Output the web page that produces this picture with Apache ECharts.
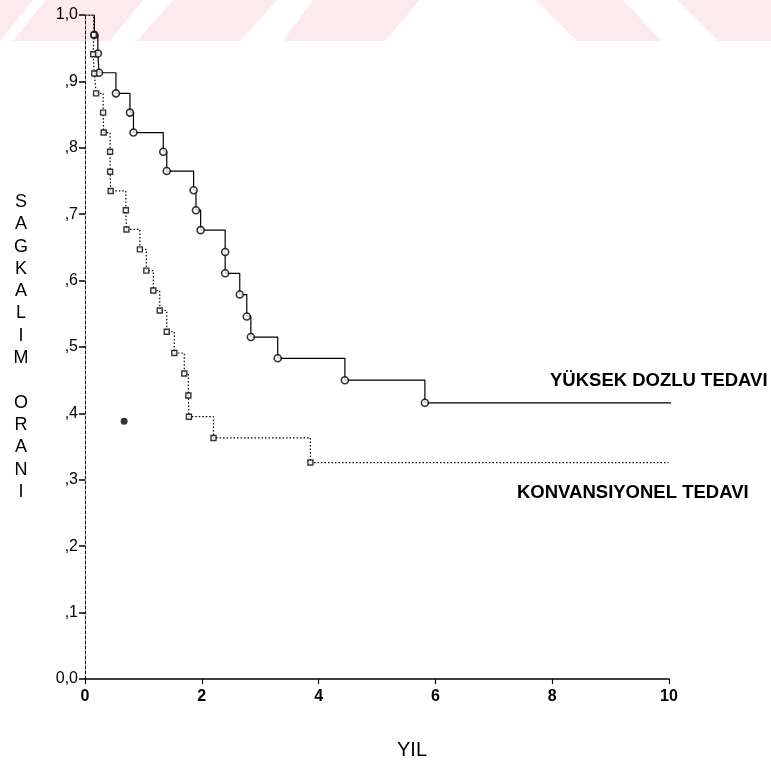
<!DOCTYPE html>
<html>
<head>
<meta charset="utf-8">
<script src="https://cdn.jsdelivr.net/npm/echarts@6/dist/echarts.min.js"></script>
<style>
  html, body { margin: 0; padding: 0; background: #fff; }
  #chart { width: 771px; height: 764px; }
</style>
</head>
<body>
<div id="chart"></div>
<script>
// Kaplan-Meier survival estimates (years, proportion surviving)
const highDoseTimes = [0, 0.16, 0.22, 0.24, 0.53, 0.77, 0.83, 1.34, 1.40, 1.86, 1.90, 1.98, 2.40, 2.40, 2.65, 2.77, 2.84, 3.30, 4.45, 5.82, 10.1];
const highDoseSurv  = [1.0, 0.970, 0.942, 0.913, 0.882, 0.853, 0.823, 0.794, 0.765, 0.736, 0.706, 0.676, 0.643, 0.611, 0.579, 0.546, 0.515, 0.483, 0.450, 0.416, 0.416];

const convTimes = [0, 0.15, 0.14, 0.16, 0.19, 0.31, 0.32, 0.43, 0.43, 0.44, 0.70, 0.71, 0.94, 1.05, 1.17, 1.28, 1.40, 1.53, 1.70, 1.77, 1.78, 2.20, 3.86, 9.99];
const convSurv  = [1.0, 0.970, 0.941, 0.912, 0.882, 0.853, 0.823, 0.794, 0.764, 0.735, 0.706, 0.677, 0.647, 0.615, 0.585, 0.555, 0.523, 0.491, 0.460, 0.427, 0.395, 0.363, 0.326, 0.326];

// lone filled point near the left of the plot
const extraPoint = [[0.67, 0.388]];

const xTickLabels = ['0', '2', '4', '6', '8', '10'];
const yTickLabels = ['0,0', ',1', ',2', ',3', ',4', ',5', ',6', ',7', ',8', ',9', '1,0'];

const highDoseLabel = 'YÜKSEK DOZLU TEDAVI';
const convLabel = 'KONVANSIYONEL TEDAVI';
const xTitle = 'YIL';
const yTitle = 'SAGKALIM ORANI';

const FONT = '"Liberation Sans", Arial, sans-serif';

function pairs(ts, vs) { return ts.map((t, i) => [t, vs[i]]); }
function events(ts, vs) { return pairs(ts, vs).slice(1, -1); }

// stacked vertical title letters (the space leaves an empty row)
const yTitleGraphics = [];
(function () {
  let y = 202;
  for (const ch of yTitle) {
    if (ch !== ' ') {
      yTitleGraphics.push({
        type: 'text', x: 21, y: y,
        style: { text: ch, font: '18px ' + FONT, fill: '#000', textAlign: 'center', textVerticalAlign: 'middle' }
      });
    }
    y += 22.3;
  }
})();

// pale pink diagonal band along the top edge
const bandColor = '#fdeaee';
const bandPolys = [
  [[0, 0], [33, 0], [0, 41]],
  [[46, 0], [143, 0], [110, 41], [13, 41]],
  [[173, 0], [277, 0], [240, 41], [137, 41]],
  [[313, 0], [420, 0], [385, 41], [283, 41]],
  [[535, 0], [623, 0], [662, 41], [577, 41]],
  [[677, 0], [771, 0], [771, 41], [718, 41]]
];
const bandGraphics = bandPolys.map(p => ({
  type: 'polygon', z: -10, silent: true,
  shape: { points: p }, style: { fill: bandColor }
}));

const chart = echarts.init(document.getElementById('chart'), null, { renderer: 'canvas' });

chart.setOption({
  animation: false,
  backgroundColor: '#fff',
  grid: { left: 85, right: 102, top: 15, bottom: 85, containLabel: false },
  xAxis: {
    type: 'value', min: 0, max: 10, interval: 2,
    axisLine: { show: true, lineStyle: { color: '#000', width: 1.5 } },
    axisTick: { show: true, length: 5, lineStyle: { color: '#000', width: 1.2 } },
    axisLabel: {
      margin: 10, color: '#000', fontSize: 16, fontWeight: 'bold', fontFamily: FONT,
      formatter: v => xTickLabels[Math.round(v / 2)]
    },
    splitLine: { show: false }
  },
  yAxis: {
    type: 'value', min: 0, max: 1, interval: 0.1,
    axisLine: { show: true, lineStyle: { color: '#000', width: 1, type: [3, 2] } },
    axisTick: { show: true, length: 6, lineStyle: { color: '#000', width: 1.5 } },
    axisLabel: {
      margin: 7, color: '#000', fontSize: 16, fontFamily: FONT,
      formatter: v => yTickLabels[Math.round(v * 10)]
    },
    splitLine: { show: false }
  },
  series: [
    {
      name: highDoseLabel, type: 'line', step: 'end', showSymbol: false,
      data: pairs(highDoseTimes, highDoseSurv),
      lineStyle: { color: '#000', width: 1.2 }
    },
    {
      name: highDoseLabel + ' olay', type: 'scatter', symbol: 'circle', symbolSize: 7,
      data: events(highDoseTimes, highDoseSurv),
      itemStyle: { color: '#fff', borderColor: '#000', borderWidth: 1.6 }, z: 5
    },
    {
      name: convLabel, type: 'line', step: 'end', showSymbol: false,
      data: pairs(convTimes, convSurv),
      lineStyle: { color: '#000', width: 1.2, type: [1.5, 2] }
    },
    {
      name: convLabel + ' olay', type: 'scatter', symbol: 'rect', symbolSize: 5,
      data: events(convTimes, convSurv),
      itemStyle: { color: '#fff', borderColor: '#000', borderWidth: 1.4 }, z: 5
    },
    {
      name: 'nokta', type: 'scatter', symbol: 'circle', symbolSize: 7,
      data: extraPoint, itemStyle: { color: '#000' }
    }
  ],
  graphic: [
    ...bandGraphics,
    ...yTitleGraphics,
    {
      type: 'text', x: 550, y: 381,
      style: { text: highDoseLabel, font: 'bold 18.5px ' + FONT, fill: '#000', textVerticalAlign: 'middle' }
    },
    {
      type: 'text', x: 517, y: 493,
      style: { text: convLabel, font: 'bold 18.5px ' + FONT, fill: '#000', textVerticalAlign: 'middle' }
    },
    {
      type: 'text', x: 412, y: 750,
      style: { text: xTitle, font: '20px ' + FONT, fill: '#000', textAlign: 'center', textVerticalAlign: 'middle' }
    }
  ]
});
</script>
</body>
</html>
